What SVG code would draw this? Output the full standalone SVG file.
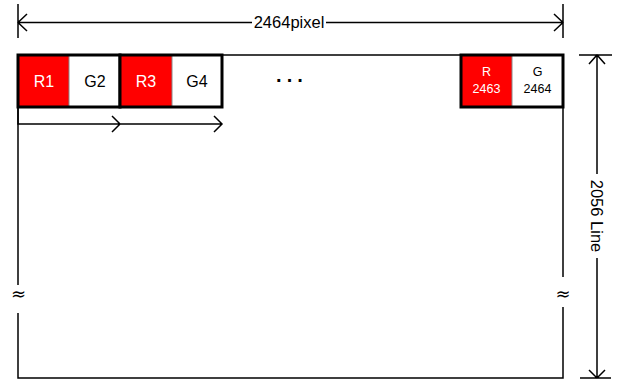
<svg xmlns="http://www.w3.org/2000/svg" width="619" height="381" viewBox="0 0 619 381">
<style>
.ln{stroke:#000;stroke-width:1.5;fill:none}
.thick{stroke:#000;stroke-width:3;fill:none}
.thin{stroke:#888;stroke-width:1}
.t{font-family:"Liberation Sans",Arial,sans-serif;text-anchor:middle;dominant-baseline:central}
.sym{font-family:"DejaVu Sans",sans-serif;text-anchor:middle;dominant-baseline:central}
.w{fill:#fff}
.k{fill:#000}
</style>
<rect width="619" height="381" fill="#fff"/>
<g id="frame">
<path class="ln" d="M18,55 H563 M18,55 V285 M18,313 V378 H563 V307 M563,277 V55"/>
<text class="sym k" x="18.5" y="293" font-size="18">≈</text>
<text class="sym k" x="563" y="293" font-size="18">≈</text>
</g>
<g id="dim-width">
<path class="ln" d="M18,4 V38 M563,4 V38 M18,22.5 H252 M326,22.5 H563 M27,14 L18,22.5 L27,31 M554,14 L563,22.5 L554,31"/>
<text class="t k" x="289" y="22" font-size="16.5">2464pixel</text>
</g>
<g id="dim-height">
<path class="ln" d="M579,55 H612 M580,378 H611 M597,55 V174 M597,258 V378 M589,64 L597,55 L605,64 M589,370 L597,378 L605,370"/>
<text class="t k" transform="translate(597,216) rotate(90)" font-size="16.5">2056 Line</text>
</g>
<g id="group1">
<rect x="18" y="55" width="51" height="52" fill="#f00"/>
<rect x="69" y="55" width="51" height="52" fill="#fff"/>
<line class="thin" x1="69" y1="55" x2="69" y2="107"/>
<rect class="thick" x="18" y="55" width="102" height="52"/>
<text class="t w" x="44" y="81" font-size="16">R1</text>
<text class="t k" x="95" y="81" font-size="16">G2</text>
</g>
<g id="group2">
<rect x="120" y="55" width="52" height="52" fill="#f00"/>
<rect x="172" y="55" width="50" height="52" fill="#fff"/>
<line class="thin" x1="172" y1="55" x2="172" y2="107"/>
<rect class="thick" x="120" y="55" width="102" height="52"/>
<text class="t w" x="146" y="81" font-size="16">R3</text>
<text class="t k" x="197" y="81" font-size="16">G4</text>
</g>
<g id="ellipsis">
<text class="t k" x="292" y="80" font-size="20" font-weight="bold" letter-spacing="4">···</text>
</g>
<g id="group-last">
<rect x="461" y="55" width="51" height="52" fill="#f00"/>
<rect x="512" y="55" width="51" height="52" fill="#fff"/>
<line class="thin" x1="512" y1="55" x2="512" y2="107"/>
<rect class="thick" x="461" y="55" width="102" height="52"/>
<text class="t w" x="486.5" y="72" font-size="12.5">R</text>
<text class="t w" x="486.5" y="89" font-size="12.5">2463</text>
<text class="t k" x="537.5" y="72" font-size="12.5">G</text>
<text class="t k" x="537.5" y="89" font-size="12.5">2464</text>
</g>
<g id="connectors">
<path class="ln" d="M18,107 V124 H222 M112,116 L120,124 L112,132 M214,116 L222,124 L214,132"/>
</g>
</svg>
